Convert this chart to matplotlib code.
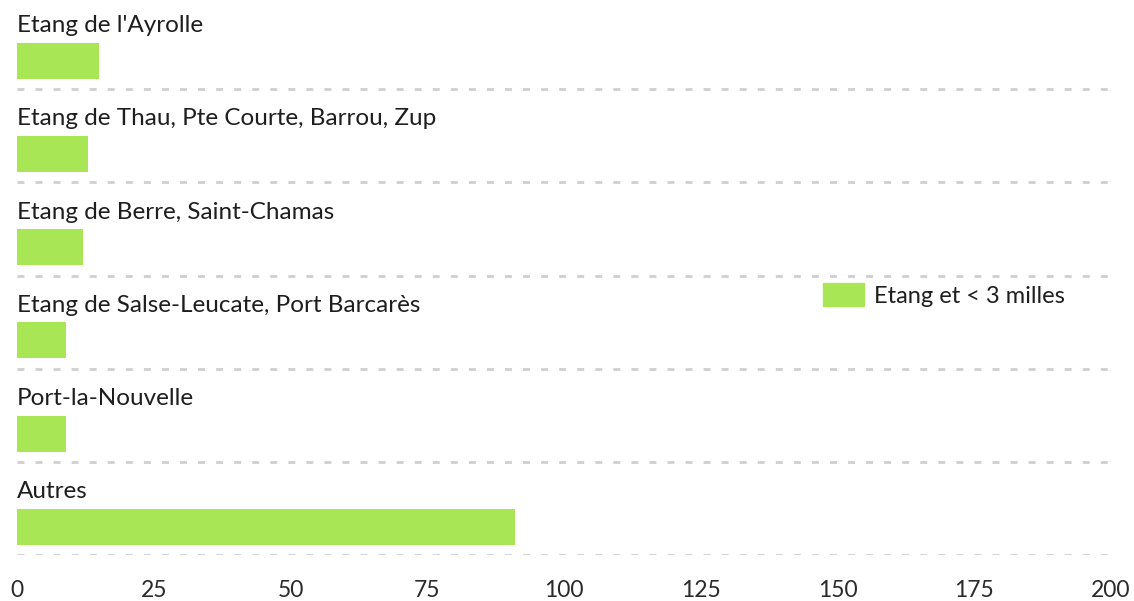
import matplotlib.pyplot as plt
from matplotlib.patches import Patch

categories = ["Etang de l'Ayrolle", "Etang de Thau, Pte Courte, Barrou, Zup",
              "Etang de Berre, Saint-Chamas", "Etang de Salse-Leucate, Port Barcarès",
              "Port-la-Nouvelle", "Autres"]
values = [15, 13, 12, 9, 9, 91]
series_name = "Etang et < 3 milles"
xticks = [0, 25, 50, 75, 100, 125, 150, 175, 200]

plt.rcParams['font.family'] = ['Lato', 'DejaVu Sans']
green = '#a8e655'

fig = plt.figure(figsize=(11.34, 6.01), dpi=100)
ax = fig.add_axes([17 / 1134, (601 - 555) / 601, 1094 / 1134, 559 / 601])

n = len(categories)
pos = [i + 0.697 for i in range(n)]
ax.barh(pos, values, height=0.386, color=green, zorder=3)

for i, name in enumerate(categories):
    ax.text(0, i + 0.32, name, ha='left', va='center', fontsize=17.5, color='#1e1e1e')
    ax.axhline(i + 1, color='#cfcfcf', lw=2, ls=(0, (2.5, 4)), zorder=1)

ax.set_xlim(0, 200)
ax.set_ylim(n, 0)
ax.set_xticks(xticks)
ax.set_xticklabels([str(t) for t in xticks], fontsize=16.5, color='#2a2a2a')
ax.set_yticks([])
ax.tick_params(axis='x', length=0, pad=18)
for s in ax.spines.values():
    s.set_visible(False)

ax.legend(handles=[Patch(color=green, label=series_name)], loc='center left',
          bbox_to_anchor=(814 / 1134, 1 - 295 / 601), bbox_transform=fig.transFigure,
          frameon=False, fontsize=17, handlelength=1.7, handleheight=1.06,
          handletextpad=0.45, borderaxespad=0, labelcolor='#1e1e1e')

fig.savefig('out.png', dpi=100)
